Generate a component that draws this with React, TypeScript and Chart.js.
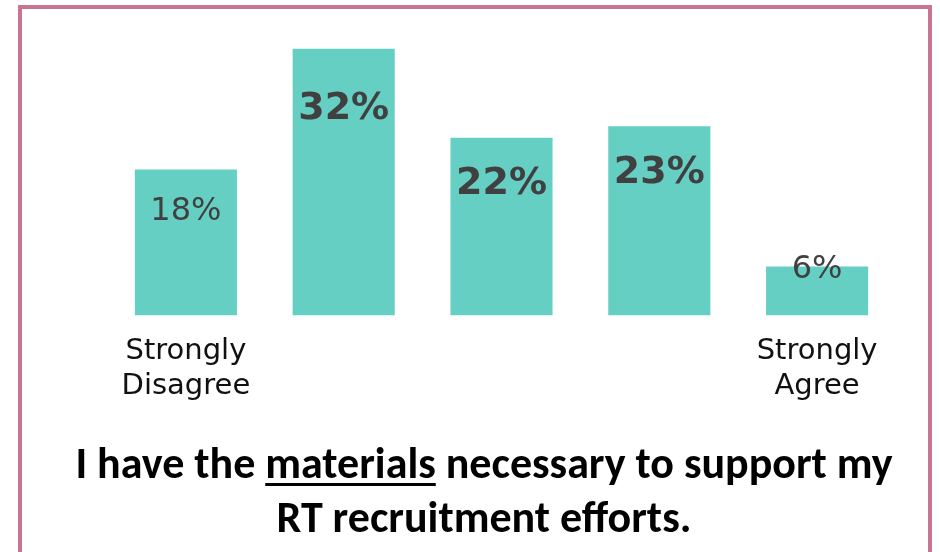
import React, { useEffect, useRef } from "react";
import { Chart, registerables } from "chart.js";

Chart.register(...registerables);

// Data
const categories: (string | string[])[] = [["Strongly", "Disagree"], "", "", "", ["Strongly", "Agree"]];
const values = [17.9, 32.7, 21.8, 23.2, 6.0];
const valueLabels = ["18%", "32%", "22%", "23%", "6%"];

// Label styling (not data)
const labelBold = [false, true, true, true, false];
const labelDy = [42.5, 60, 46, 46.5, 3];

const BAR_COLOR = "#66CFC3";
const LABEL_COLOR = "#404040";

const valueLabelPlugin = {
  id: "valueLabels",
  afterDatasetsDraw(chart: any) {
    const ctx = chart.ctx;
    const meta = chart.getDatasetMeta(0);
    ctx.save();
    ctx.textAlign = "center";
    ctx.textBaseline = "middle";
    ctx.fillStyle = LABEL_COLOR;
    meta.data.forEach((bar: any, i: number) => {
      ctx.font = labelBold[i] ? 'bold 38px "DejaVu Sans"' : '32px "DejaVu Sans"';
      ctx.fillText(valueLabels[i], bar.x, bar.y + labelDy[i]);
    });
    ctx.restore();
  },
};

export default function App() {
  const ref = useRef<HTMLCanvasElement>(null);
  useEffect(() => {
    const chart = new Chart(ref.current!, {
      type: "bar",
      data: {
        labels: categories,
        datasets: [
          {
            data: values,
            backgroundColor: BAR_COLOR,
            borderWidth: 0,
            categoryPercentage: 1,
            barPercentage: 0.647,
          },
        ],
      },
      options: {
        animation: false,
        responsive: false,
        maintainAspectRatio: false,
        layout: { padding: { left: 107, right: 44, top: 30, bottom: 129 } },
        plugins: { legend: { display: false }, tooltip: { enabled: false }, title: { display: false } },
        scales: {
          x: {
            grid: { display: false, drawTicks: false },
            border: { display: false },
            ticks: {
              color: "#111111",
              font: { family: "DejaVu Sans", size: 29, lineHeight: 1.2 },
              padding: 19,
              maxRotation: 0,
              autoSkip: false,
            },
          },
          y: { display: false, min: 0, max: 35 },
        },
      },
      plugins: [valueLabelPlugin],
    });
    return () => chart.destroy();
  }, []);

  return (
    <div style={{ position: "fixed", left: 0, top: 0, width: 940, height: 552, overflow: "hidden", background: "#fff" }}>
      <div
        style={{
          position: "absolute",
          left: 18,
          top: 5,
          width: 906,
          height: 600,
          border: "4px solid #C8758F",
        }}
      />
      <canvas ref={ref} width={940} height={552} style={{ position: "absolute", left: 0, top: 0, width: 940, height: 552 }} />
      <div
        style={{
          position: "absolute",
          left: 0,
          top: 436,
          width: 968,
          textAlign: "center",
          fontFamily: "Carlito, Calibri, sans-serif",
          fontWeight: "bold",
          fontSize: 44,
          lineHeight: "54px",
          color: "#000",
        }}
      >
        I have the{" "}
        <span style={{ textDecoration: "underline", textDecorationThickness: "3px", textUnderlineOffset: "5px" }}>materials</span>{" "}
        necessary to support my
        <br />
        RT recruitment efforts.
      </div>
    </div>
  );
}
